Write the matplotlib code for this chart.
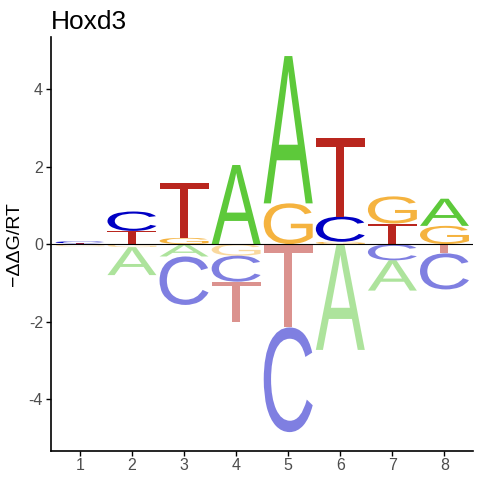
"""Energy logo for Hoxd3 (-ddG/RT per position)."""

import matplotlib
matplotlib.use("Agg")
import matplotlib.pyplot as plt
from matplotlib.font_manager import FontProperties
from matplotlib.patches import PathPatch
from matplotlib.textpath import TextPath
from matplotlib.transforms import Affine2D

positions = [1, 2, 3, 4, 5, 6, 7, 8]
letters = ["A", "C", "G", "T"]
# signed -ddG/RT per letter and position
vals_A = [-0.02, -0.72, -0.32, 2.04, 3.80, -2.73, -0.78, 0.70]
vals_C = [0.05, 0.50, -1.25, -0.67, -2.70, 0.65, -0.42, -0.93]
vals_G = [-0.04, -0.08, 0.16, -0.30, 1.05, 0.06, 0.70, 0.47]
vals_T = [0.02, 0.34, 1.42, -1.05, -2.15, 2.02, 0.53, -0.24]
letter_colors = {"A": "#5DC93A", "C": "#0000C4", "G": "#F5B33F", "T": "#B9261E"}

plt.rcParams["font.family"] = ["Liberation Sans", "DejaVu Sans"]
glyph_font = FontProperties(family="Liberation Sans", weight="normal")


def draw_letter(ax, letter, x_center, y0, height, width, color, alpha):
    path = TextPath((0, 0), letter, size=1, prop=glyph_font)
    ext = path.get_extents()
    tr = (Affine2D()
          .translate(-ext.x0, -ext.y0)
          .scale(width / ext.width, height / ext.height)
          .translate(x_center - width / 2, y0))
    patch = PathPatch(tr.transform_path(path), facecolor=color,
                      edgecolor="none", alpha=alpha, lw=0)
    ax.add_patch(patch)


fig = plt.figure(figsize=(4.8, 4.8), dpi=100)
ax = fig.add_axes([0.1056, 0.061, 0.879, 0.861])

table = {"A": vals_A, "C": vals_C, "G": vals_G, "T": vals_T}
width = 0.94
for i, pos in enumerate(positions):
    col = [(ltr, table[ltr][i]) for ltr in letters]
    ups = sorted([c for c in col if c[1] > 0], key=lambda c: c[1])
    downs = sorted([c for c in col if c[1] < 0], key=lambda c: -c[1])
    y = 0.0
    for ltr, v in ups:
        draw_letter(ax, ltr, pos, y, v, width, letter_colors[ltr], 1.0)
        y += v
    y = 0.0
    for ltr, v in downs:
        draw_letter(ax, ltr, pos, y + v, -v, width, letter_colors[ltr], 0.5)
        y += v

ax.axhline(0, color="black", lw=0.8, zorder=3)
ax.set_xlim(0.44, 8.54)
ax.set_ylim(-5.33, 5.33)
ax.set_xticks(positions)
ax.set_yticks([-4, -2, 0, 2, 4])
ax.set_yticklabels(["-4", "-2", "0", "2", "4"])
for s in ["top", "right"]:
    ax.spines[s].set_visible(False)
for s in ["left", "bottom"]:
    ax.spines[s].set_linewidth(1.2)
ax.tick_params(length=3.5, width=1.0, labelsize=11.5, labelcolor="#4D4D4D",
               pad=2)
ax.set_ylabel("\u2212\u0394\u0394G/RT", fontsize=14, labelpad=4)
ax.set_title("Hoxd3", loc="left", fontsize=19, pad=6)

fig.savefig("out.png", dpi=100)
